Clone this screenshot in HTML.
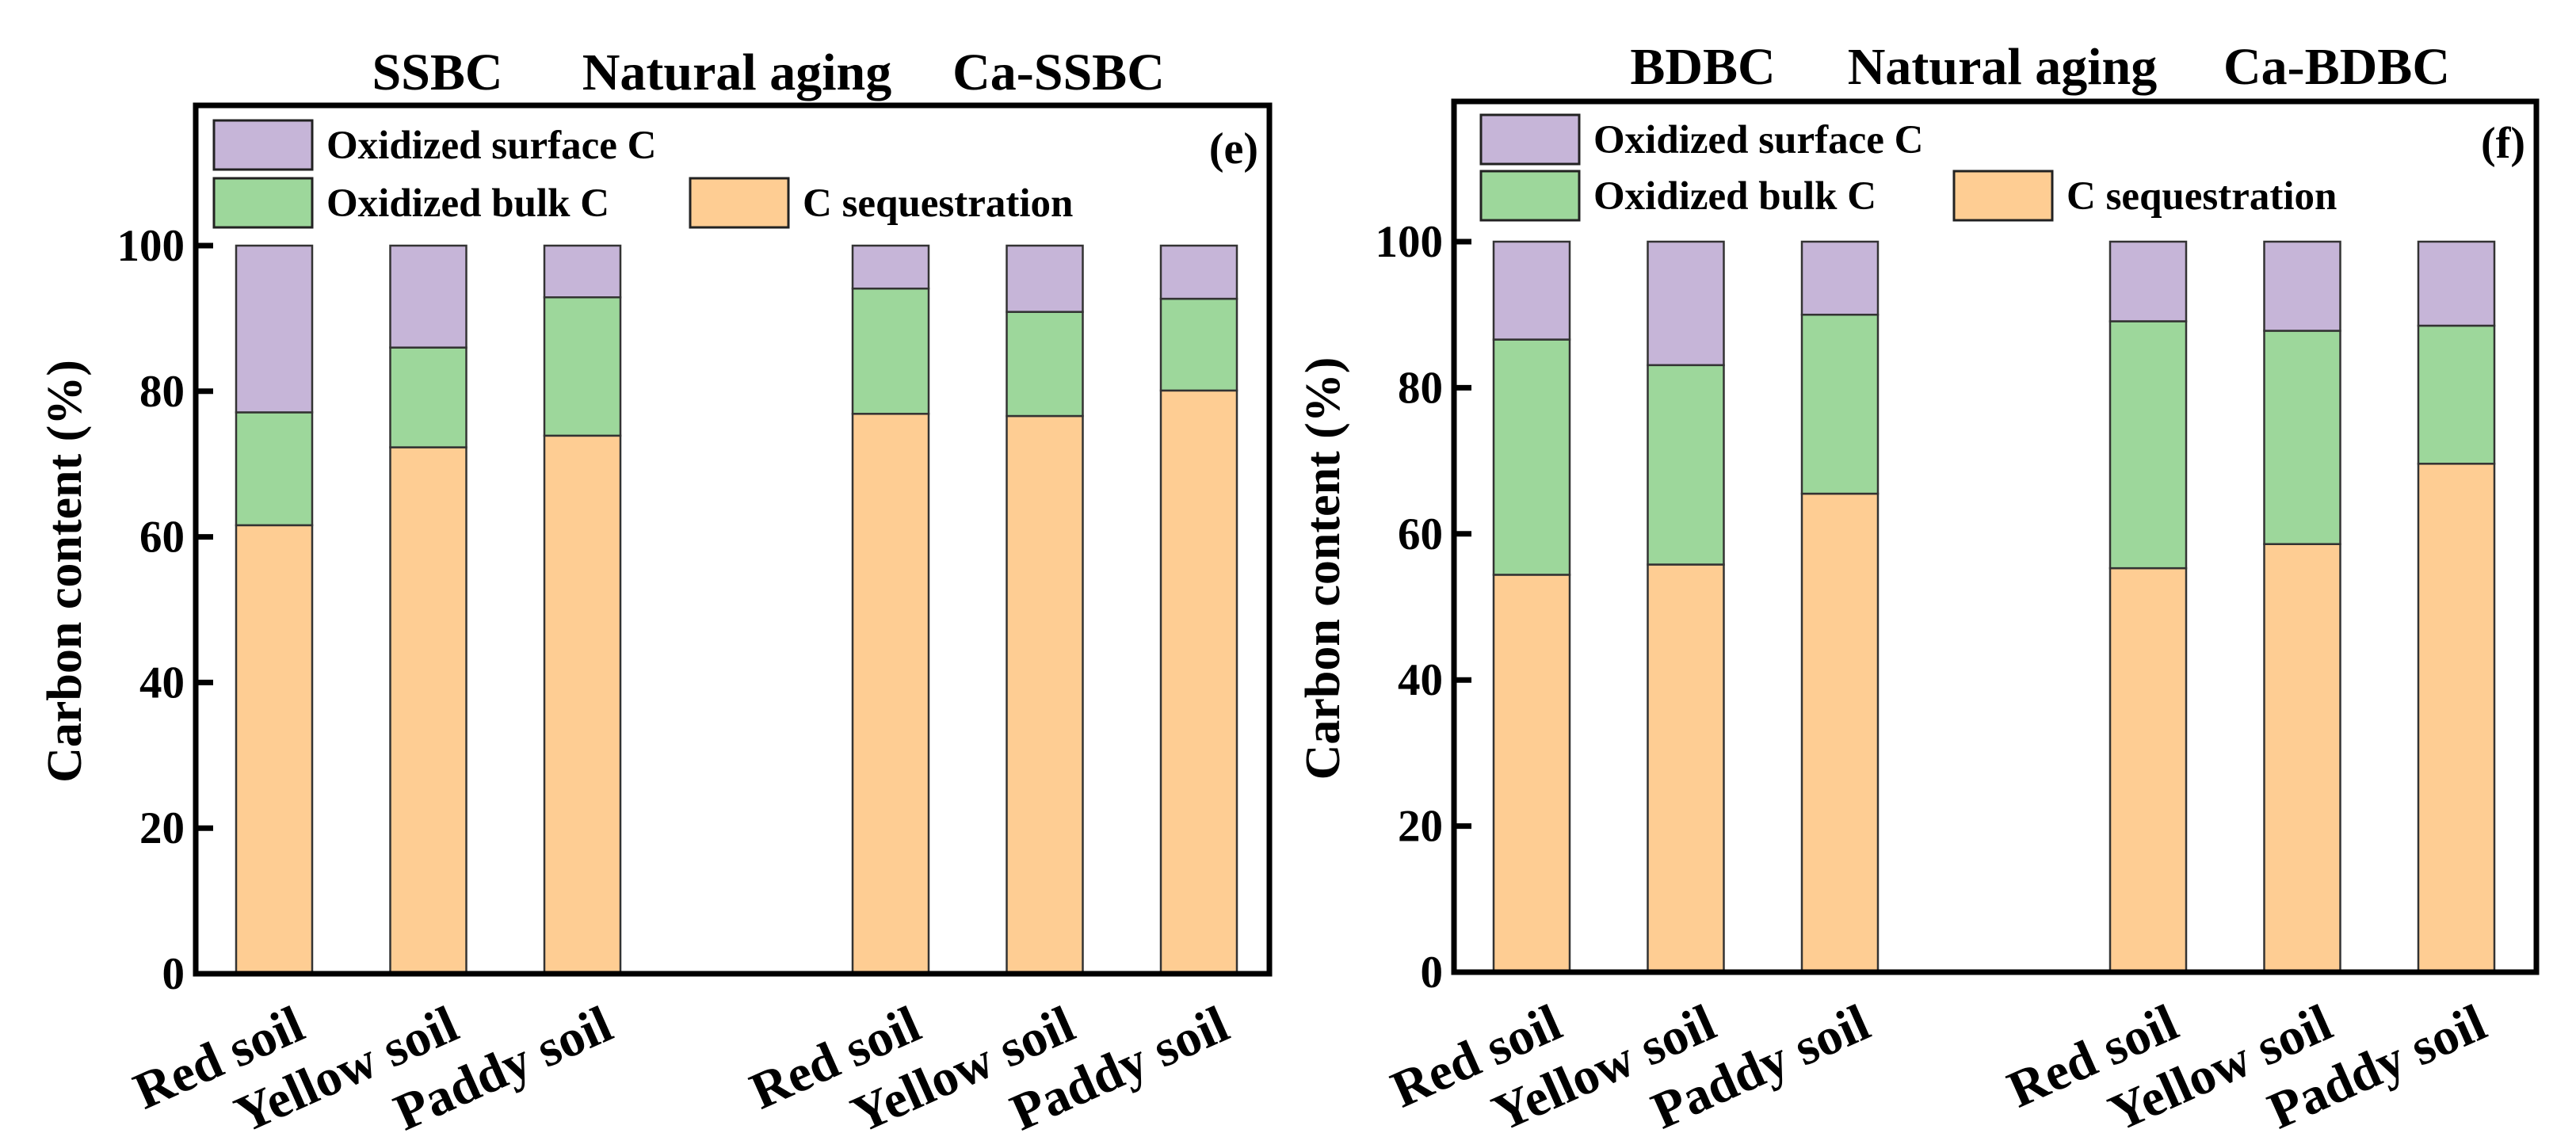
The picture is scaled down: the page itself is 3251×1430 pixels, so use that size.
<!DOCTYPE html>
<html><head><meta charset="utf-8"><style>
html,body{margin:0;padding:0;background:#fff;}
svg{display:block;}
text{font-family:"Liberation Serif",serif;font-weight:bold;fill:#000;}
</style></head><body>
<svg id="fig" width="3251" height="1430" viewBox="0 0 3251 1430" xmlns="http://www.w3.org/2000/svg"></svg>
<script>
const categories = ["Red soil","Yellow soil","Paddy soil","Red soil","Yellow soil","Paddy soil"];
const catIndex = [0,1,2,4,5,6];
const yTicks = [0,20,40,60,80,100];
const seqE = [61.6,72.3,73.9,76.9,76.6,80.1];
const bulkTopE = [77.1,86.0,92.9,94.1,90.9,92.7];
const seqF = [54.4,55.8,65.5,55.3,58.6,69.6];
const bulkTopF = [86.6,83.1,90.0,89.1,87.8,88.5];
const totals = [100,100,100,100,100,100];
const titlesE = ["SSBC","Natural aging","Ca-SSBC"];
const titlesF = ["BDBC","Natural aging","Ca-BDBC"];

const NS = "http://www.w3.org/2000/svg";
const svg = document.getElementById('fig');
function mk(tag, attrs, parent){ const e=document.createElementNS(NS,tag); for(const k in attrs) e.setAttribute(k,attrs[k]); (parent||svg).appendChild(e); return e; }
const C_SURF="#c6b5d8", C_BULK="#9dd79b", C_SEQ="#fecd93";

function panel(p){
  const g = mk('g',{});
  
  
  const y = v => p.y0 - (v/100)*(p.y0-p.y100);
  const x = i => p.c0 + i*p.step;
  const bw = 96;
  for(let k=0;k<categories.length;k++){
    const cx = x(catIndex[k]);
    const segs = [[0,p.seq[k],C_SEQ,'seq'],[p.seq[k],p.bulk[k],C_BULK,'bulk'],[p.bulk[k],totals[k],C_SURF,'surface']];
    for(const s of segs){
      const r = mk('rect',{x:cx-bw/2,y:y(s[1]),width:bw,height:y(s[0])-y(s[1]),fill:s[2],stroke:"#333",'stroke-width':2.5},g);
      
      
    }
    const ax = cx+42, ay = p.y0+80;
    const t = mk('text',{x:ax,y:ay,'font-size':66,'text-anchor':'end',transform:`rotate(-24 ${ax} ${ay})`},g);
    t.textContent = categories[k];
    
    
  }
  const box = mk('rect',{x:p.xl,y:p.top,width:p.xr-p.xl,height:p.y0-p.top,fill:'none',stroke:'#000','stroke-width':7},g);
  
  
  for(const v of yTicks){
    mk('line',{x1:p.xl,x2:p.xl+22,y1:y(v),y2:y(v),stroke:'#000','stroke-width':7},g);
    const t = mk('text',{x:p.xl-14,y:y(v)+19,'font-size':57,'text-anchor':'end'},g);
    t.textContent = v;
    
    
  }
  const yt = mk('text',{x:0,y:0,'font-size':62,'text-anchor':'middle',transform:`translate(${p.xl-145} ${(p.y0+p.top)/2+40}) rotate(-90)`},g);
  yt.textContent = "Carbon content (%)";
  
  
  p.titles.forEach((s,i)=>{
    const t = mk('text',{x:p.tx[i],y:p.ty,'font-size':66,'text-anchor':'middle'},g);
    t.textContent = s;
    
    
  });
  const L = [[p.lx, p.ly1, C_SURF, "Oxidized surface C"],[p.lx,p.ly2,C_BULK,"Oxidized bulk C"],[p.lx2,p.ly2,C_SEQ,"C sequestration"]];
  for(const l of L){
    const r = mk('rect',{x:l[0],y:l[1],width:124,height:62,fill:l[2],stroke:'#222','stroke-width':3},g);
    
    
    const t = mk('text',{x:l[0]+142,y:l[1]+48,'font-size':51},g);
    t.textContent = l[3];
    
    
  }
  const pl = mk('text',{x:p.xr-14,y:p.ly1+54,'font-size':56,'text-anchor':'end'},g);
  pl.textContent = p.label;
  
  
}
panel({name:'panel-e',xl:247,xr:1602,top:133,y0:1229,y100:310,c0:346,step:194.5,seq:seqE,bulk:bulkTopE,
  titles:titlesE,tx:[552,930,1336],ty:113,lx:270,lx2:871,ly1:152,ly2:225,label:"(e)"});
panel({name:'panel-f',xl:1835,xr:3201,top:128,y0:1227,y100:305,c0:1933,step:194.5,seq:seqF,bulk:bulkTopF,
  titles:titlesF,tx:[2149,2527,2949],ty:106,lx:1869,lx2:2466,ly1:145,ly2:216,label:"(f)"});
</script>
</body></html>
